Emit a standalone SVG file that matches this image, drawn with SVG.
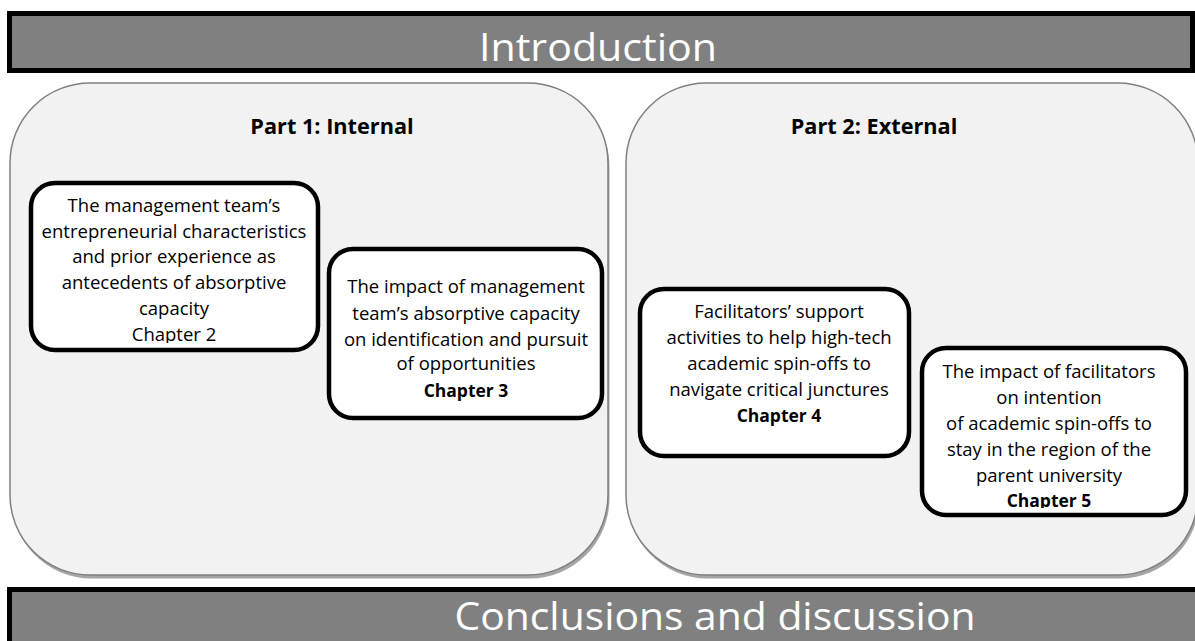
<svg xmlns="http://www.w3.org/2000/svg" width="1195" height="641" viewBox="0 0 1195 641">
<style>
.bar{fill:#808080;stroke:#000;stroke-width:5}
.bartext{font-family:"Open Sans","Noto Sans",sans-serif;font-size:39px;fill:#fff;text-anchor:middle}
.panel{fill:#f2f2f2;stroke:#7f7f7f;stroke-width:1.5}
.shadow{fill:#a6a6a6}
.ptitle{font-family:"Open Sans","Noto Sans",sans-serif;font-size:21.7px;font-weight:bold;fill:#000;text-anchor:middle}
.box{fill:#fff;stroke:#000;stroke-width:4.5}
.t{font-family:"Open Sans","Noto Sans",sans-serif;font-size:18.5px;fill:#000;text-anchor:middle}
.b{font-weight:bold;font-size:17.5px}
</style>
<defs>
<clipPath id="clip2"><rect x="31" y="183" width="287" height="160"/></clipPath>
<clipPath id="clip5"><rect x="922" y="348" width="264" height="160"/></clipPath>
</defs>
<rect width="1195" height="641" fill="#fff"/>
<g id="introduction">
<rect class="bar" x="9.5" y="13.5" width="1183" height="57"/>
<text class="bartext" x="598" y="61" textLength="238" lengthAdjust="spacingAndGlyphs">Introduction</text>
</g>
<g id="part1">
<rect class="shadow" x="11.5" y="86.5" width="598" height="492" rx="80" ry="80"/>
<rect class="panel" x="10" y="83" width="598" height="492" rx="80" ry="80"/>
<text class="ptitle" x="332" y="134">Part 1: Internal</text>
</g>
<g id="part2">
<rect class="shadow" x="627.5" y="86.5" width="572" height="492" rx="80" ry="80"/>
<rect class="panel" x="626" y="83" width="572" height="492" rx="80" ry="80"/>
<text class="ptitle" x="874" y="134">Part 2: External</text>
</g>
<g id="chapter2">
<rect class="box" x="31" y="183" width="287" height="167" rx="24" ry="24"/>
<g clip-path="url(#clip2)">
<text class="t" x="174" y="212">The management team’s</text>
<text class="t" x="174" y="238">entrepreneurial characteristics</text>
<text class="t" x="174" y="263">and prior experience as</text>
<text class="t" x="174" y="289">antecedents of absorptive</text>
<text class="t" x="174" y="315">capacity</text>
<text class="t" x="174" y="341">Chapter 2</text>
</g>
</g>
<g id="chapter3">
<rect class="box" x="329" y="249" width="273" height="169" rx="24" ry="24"/>
<text class="t" x="466" y="293">The impact of management</text>
<text class="t" x="466" y="320">team’s absorptive capacity</text>
<text class="t" x="466" y="346">on identification and pursuit</text>
<text class="t" x="466" y="370">of opportunities</text>
<text class="t b" x="466" y="397">Chapter 3</text>
</g>
<g id="chapter4">
<rect class="box" x="640" y="289" width="269" height="167" rx="24" ry="24"/>
<text class="t" x="779" y="318">Facilitators’ support</text>
<text class="t" x="779" y="344">activities to help high-tech</text>
<text class="t" x="779" y="370">academic spin-offs to</text>
<text class="t" x="779" y="396">navigate critical junctures</text>
<text class="t b" x="779" y="422">Chapter 4</text>
</g>
<g id="chapter5">
<rect class="box" x="922" y="348" width="264" height="167" rx="24" ry="24"/>
<g clip-path="url(#clip5)">
<text class="t" x="1049" y="378">The impact of facilitators</text>
<text class="t" x="1049" y="404">on intention</text>
<text class="t" x="1049" y="430">of academic spin-offs to</text>
<text class="t" x="1049" y="456">stay in the region of the</text>
<text class="t" x="1049" y="482">parent university</text>
<text class="t b" x="1049" y="507">Chapter 5</text>
</g>
</g>
<g id="connectors"/>
<g id="conclusions">
<rect class="bar" x="9.5" y="589.5" width="1190" height="60"/>
<text class="bartext" x="715" y="630" textLength="521" lengthAdjust="spacingAndGlyphs">Conclusions and discussion</text>
</g>
</svg>
